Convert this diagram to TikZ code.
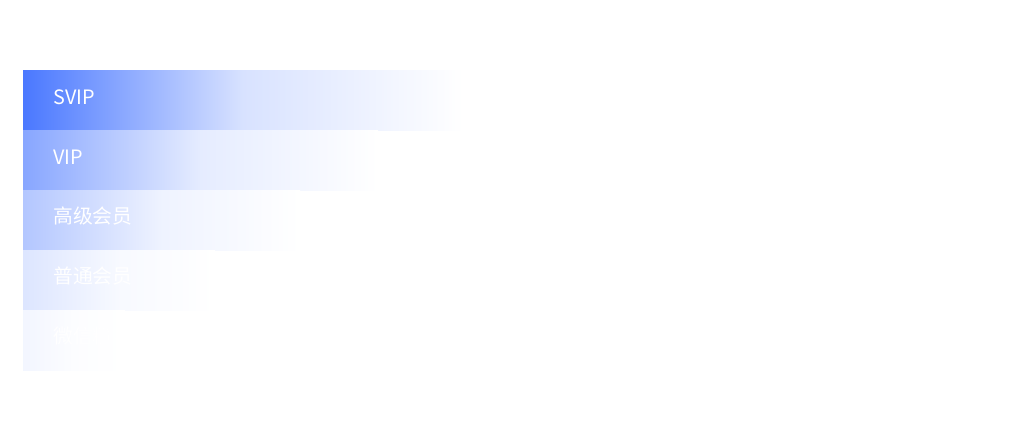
\documentclass[tikz,border=0pt]{standalone}
\usepackage{fontspec}
\newfontfamily\cjk{Noto Sans CJK SC}
\usetikzlibrary{positioning}
\definecolor{svipblue}{HTML}{4A78FF}
\definecolor{svipmid}{HTML}{D8E2FF}
\tikzset{
	bar/.style={minimum height=60pt, minimum width=#1, inner sep=0pt, outer sep=0pt},
	tone/.style={left color=svipblue!#1!white, right color=white, middle color=svipmid!#1!white},
	tag/.style={anchor=base west, inner sep=0pt, text=white, font=\cjk\fontsize{19.8}{20}\selectfont}
}
\begin{document}
\begin{tikzpicture}[x=1pt, y=1pt]
		\useasboundingbox[fill=white] (0,0) rectangle (1020,-440);

		% Add the bars
		\node[bar=440pt, tone=100, anchor=north west] (svip) at (23,-70) {};
		\node[bar=355pt, tone=66, below right=0pt and 0pt of svip.south west]  (vip) {};
		\node[bar=277pt, tone=42, below right=0pt and 0pt of vip.south west]   (gaoji) {};
		\node[bar=192pt, tone=19, below right=0pt and 0pt of gaoji.south west] (putong) {};
		\node[bar=102pt, tone=7,  below right=0pt and 0pt of putong.south west] (fensi) {};

		% Add the labels
		\node[tag] (sviptag)   at ([xshift=30pt, yshift=-4pt]svip.west)   {SVIP};
		\node[tag] (viptag)    at ([xshift=30pt, yshift=-4pt]vip.west)    {VIP};
		\node[tag] (gaojitag)  at ([xshift=30pt, yshift=-3pt]gaoji.west)  {高级会员};
		\node[tag] (putongtag) at ([xshift=30pt, yshift=-3pt]putong.west) {普通会员};
		\node[tag] (fensitag)  at ([xshift=30pt, yshift=-3pt]fensi.west)  {微信粉丝};
	\end{tikzpicture}
\end{document}
